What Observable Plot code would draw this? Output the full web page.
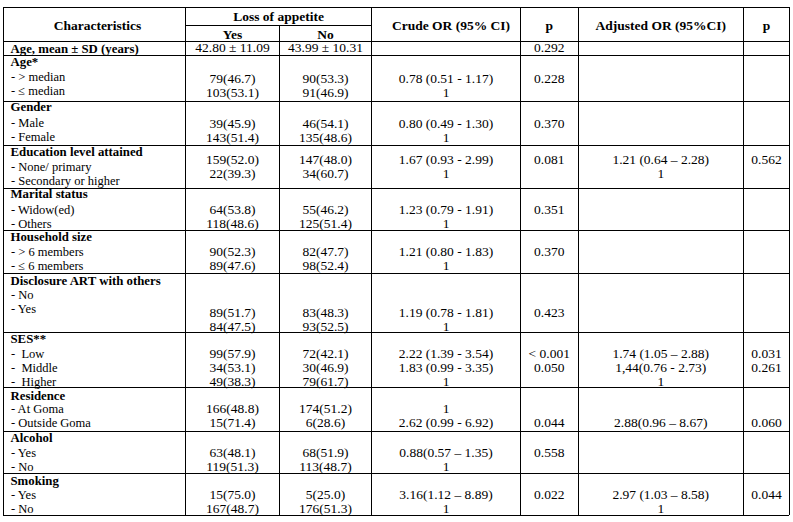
<!DOCTYPE html>
<html><head><meta charset="utf-8">
<script src="https://cdn.jsdelivr.net/npm/d3@7"></script>
<script src="https://cdn.jsdelivr.net/npm/@observablehq/plot@0.6"></script>
<style>html,body{margin:0;padding:0;background:#fff;}</style>
</head><body><div id="chart"></div>
<script>
// ---------- data ----------
const headerCols = ["Characteristics", "Yes", "No", "Crude OR (95% CI)", "p", "Adjusted OR (95%CI)", "p"];
const headerSpan = "Loss of appetite";

const groupTitles = ["Age, mean ± SD (years)", "Age*", "Gender", "Education level attained", "Marital status",
  "Household size", "Disclosure ART with others", "SES**", "Residence", "Alcohol", "Smoking"];
const groupLevels = [
  [],
  ["- > median", "- ≤ median"],
  ["- Male", "- Female"],
  ["- None/ primary", "- Secondary or higher"],
  ["- Widow(ed)", "- Others"],
  ["- > 6 members", "- ≤ 6 members"],
  ["- No", "- Yes", ""],
  ["-\u00a0 Low", "-\u00a0 Middle", "-\u00a0 Higher"],
  ["- At Goma", "- Outside Goma"],
  ["- Yes", "- No"],
  ["- Yes", "- No"]
];
const yesValues = [["42.80 ± 11.09"], ["79(46.7)", "103(53.1)"], ["39(45.9)", "143(51.4)"], ["159(52.0)", "22(39.3)"],
  ["64(53.8)", "118(48.6)"], ["90(52.3)", "89(47.6)"], ["89(51.7)", "84(47.5)"], ["99(57.9)", "34(53.1)", "49(38.3)"],
  ["166(48.8)", "15(71.4)"], ["63(48.1)", "119(51.3)"], ["15(75.0)", "167(48.7)"]];
const noValues = [["43.99 ± 10.31"], ["90(53.3)", "91(46.9)"], ["46(54.1)", "135(48.6)"], ["147(48.0)", "34(60.7)"],
  ["55(46.2)", "125(51.4)"], ["82(47.7)", "98(52.4)"], ["83(48.3)", "93(52.5)"], ["72(42.1)", "30(46.9)", "79(61.7)"],
  ["174(51.2)", "6(28.6)"], ["68(51.9)", "113(48.7)"], ["5(25.0)", "176(51.3)"]];
const crudeOR = [[""], ["0.78 (0.51 - 1.17)", "1"], ["0.80 (0.49 - 1.30)", "1"], ["1.67 (0.93 - 2.99)", "1"],
  ["1.23 (0.79 - 1.91)", "1"], ["1.21 (0.80 - 1.83)", "1"], ["1.19 (0.78 - 1.81)", "1"],
  ["2.22 (1.39 - 3.54)", "1.83 (0.99 - 3.35)", "1"], ["1", "2.62 (0.99 - 6.92)"], ["0.88(0.57 – 1.35)", "1"],
  ["3.16(1.12 – 8.89)", "1"]];
const crudeP = [["0.292"], ["0.228"], ["0.370"], ["0.081"], ["0.351"], ["0.370"], ["0.423"], ["< 0.001", "0.050"],
  ["", "0.044"], ["0.558"], ["0.022"]];
const adjustedOR = [[], [], [], ["1.21 (0.64 – 2.28)", "1"], [], [], [], ["1.74 (1.05 – 2.88)", "1,44(0.76 - 2.73)", "1"],
  ["", "2.88(0.96 – 8.67)"], [], ["2.97 (1.03 – 8.58)", "1"]];
const adjustedP = [[], [], [], ["0.562"], [], [], [], ["0.031", "0.261"], ["", "0.060"], [], ["0.044"]];

// ---------- layout (not data) ----------
const colWidths = [182, 94, 92, 149, 57.5, 165.5, 46];
const headerRowH = [18, 16];
const lineH = 14, titleOffset = 6.5, levelExtra = 0.8;
const rowPad = [0, 4, 2, 1, 0, 1, 3, -1, 2, 0, 0];
const titleShift = [0.5, -0.5, -1.5, 0, -1, -0.5, 1, 0, 1.5, 0, 0.5];
const valueLine = [0, 1.15, 1.05, 0.5, 1, 1, 2.25, 1, 1, 1, 1];

const bounds = [0, ...d3.cumsum(colWidths)];
const totalW = bounds[bounds.length - 1];
const colCenter = i => (bounds[i] + bounds[i + 1]) / 2;
const headerH = d3.sum(headerRowH);
const nLines = groupLevels.map(l => Math.max(1, 1 + l.length));
const groupH = nLines.map((n, g) => n * lineH + rowPad[g]);
const groupTop = groupH.map((h, i) => headerH + d3.sum(groupH.slice(0, i)));
const totalH = headerH + d3.sum(groupH);
const lineY = (g, j) => groupTop[g] + titleOffset + lineH * j + (j > 0 ? levelExtra : 0);

// text cells
const titleCells = groupTitles.map((t, g) => ({x: bounds[0] + 7, y: lineY(g, 0) + titleShift[g], text: t}));
const levelCells = groupLevels.flatMap((lv, g) => lv.map((t, j) => ({x: bounds[0] + 7.5, y: lineY(g, j + 1), text: t})));
const valueCols = [yesValues, noValues, crudeOR, crudeP, adjustedOR, adjustedP];
const valueCells = valueCols.flatMap((col, c) => col.flatMap((vals, g) => vals.map((t, j) => ({
  x: colCenter(c + 1), y: lineY(g, valueLine[g] + j), text: t}))));
const headerCells = [
  {x: colCenter(0) + 3, y: headerH / 2 + 1, text: headerCols[0]},
  {x: (bounds[1] + bounds[3]) / 2, y: headerRowH[0] / 2 + 0.5, text: headerSpan},
  {x: colCenter(1), y: headerRowH[0] + headerRowH[1] / 2 + 1, text: headerCols[1]},
  {x: colCenter(2), y: headerRowH[0] + headerRowH[1] / 2 + 1, text: headerCols[2]},
  ...[3, 4, 5, 6].map(c => ({x: colCenter(c) + (c === 3 ? 5 : 0), y: headerH / 2 + 1, text: headerCols[c]}))
];

// grid lines
const hLines = [0, headerH, ...groupTop.map((t, g) => t + groupH[g])].map(y => ({y, x1: 0, x2: totalW}));
hLines.push({y: headerRowH[0], x1: bounds[1], x2: bounds[3]});
const vLines = bounds.map((x, i) => ({x, y1: i === 2 ? headerRowH[0] : 0, y2: totalH}));

const font = "'Liberation Serif', 'Times New Roman', serif";
const chart = Plot.plot({
  width: 793, height: 522, margin: 0,
  x: {domain: [0, totalW], range: [3, 789], axis: null},
  y: {domain: [0, totalH], range: [7, 7 + totalH], axis: null},
  style: {fontFamily: font, background: "#fff", color: "#000"},
  marks: [
    Plot.ruleY(hLines, {y: "y", x1: "x1", x2: "x2", stroke: "#000", strokeWidth: 1, shapeRendering: "crispEdges"}),
    Plot.ruleX(vLines, {x: "x", y1: "y1", y2: "y2", stroke: "#000", strokeWidth: 1, shapeRendering: "crispEdges"}),
    Plot.text(headerCells, {x: "x", y: "y", text: "text", textAnchor: "middle", fontWeight: "bold", fontSize: 13.5, fill: "#000"}),
    Plot.text(titleCells, {x: "x", y: "y", text: "text", textAnchor: "start", fontWeight: "bold", fontSize: 12.8, fill: "#000"}),
    Plot.text(levelCells, {x: "x", y: "y", text: "text", textAnchor: "start", fontSize: 12.5, fill: "#000"}),
    Plot.text(valueCells, {x: "x", y: "y", text: "text", textAnchor: "middle", fontSize: 13.5, fill: "#000"})
  ]
});
document.getElementById("chart").appendChild(chart);
</script>
</body></html>
